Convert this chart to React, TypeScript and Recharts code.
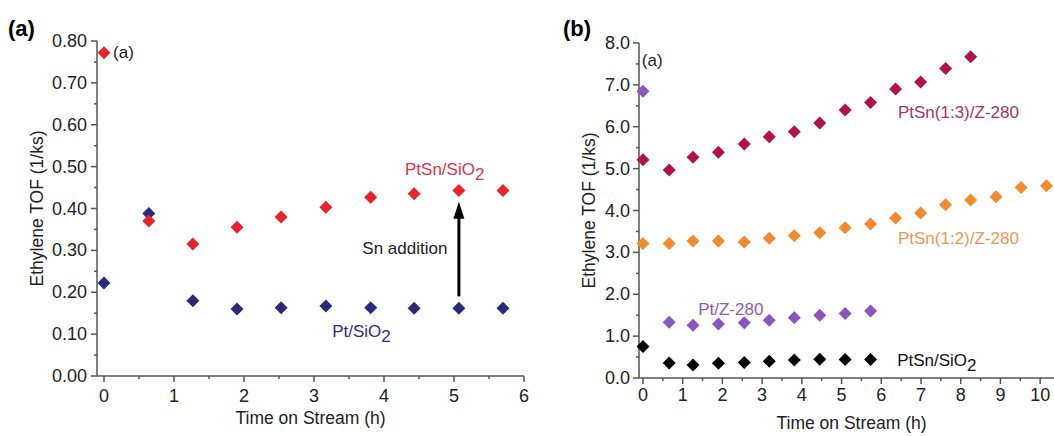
import { ScatterChart, Scatter, XAxis, YAxis, ReferenceDot, ReferenceLine } from "recharts";

// ---- panel (a) data ----
const timesA = [0, 0.64, 1.27, 1.9, 2.53, 3.17, 3.81, 4.43, 5.07, 5.7];
const ptSnSiO2A = [0.772, 0.37, 0.315, 0.355, 0.38, 0.403, 0.427, 0.435, 0.443, 0.443];
const ptSiO2A = [0.222, 0.388, 0.18, 0.16, 0.163, 0.167, 0.163, 0.162, 0.162, 0.162];
const xTicksA = [0, 0.5, 1, 1.5, 2, 2.5, 3, 3.5, 4, 4.5, 5, 5.5, 6];
const yTicksA = [
  0, 0.05, 0.1, 0.15, 0.2, 0.25, 0.3, 0.35, 0.4, 0.45, 0.5, 0.55, 0.6, 0.65, 0.7, 0.75, 0.8,
];

// ---- panel (b) data ----
const timesB = [0, 0.66, 1.26, 1.9, 2.55, 3.18, 3.81, 4.45, 5.09, 5.73, 6.36, 6.99, 7.62, 8.25, 8.89, 9.52, 10.16];
const ptSn13 = [5.21, 4.97, 5.27, 5.39, 5.59, 5.76, 5.88, 6.09, 6.4, 6.58, 6.9, 7.07, 7.39, 7.67];
const ptSn12 = [3.21, 3.21, 3.27, 3.27, 3.25, 3.34, 3.4, 3.47, 3.59, 3.68, 3.82, 3.94, 4.14, 4.25, 4.33, 4.55, 4.59];
const ptZ280 = [6.85, 1.33, 1.26, 1.29, 1.32, 1.38, 1.44, 1.5, 1.54, 1.6];
const ptSnSiO2B = [0.75, 0.36, 0.31, 0.35, 0.37, 0.4, 0.43, 0.45, 0.44, 0.44];
const xTicksB = [0, 0.5, 1, 1.5, 2, 2.5, 3, 3.5, 4, 4.5, 5, 5.5, 6, 6.5, 7, 7.5, 8, 8.5, 9, 9.5, 10, 10.5];
const yTicksB = [0, 0.5, 1, 1.5, 2, 2.5, 3, 3.5, 4, 4.5, 5, 5.5, 6, 6.5, 7, 7.5, 8];

const FONT = "'Liberation Sans', Arial, sans-serif";
const AXIS = "#555";

const pts = (xs: number[], ys: number[]) => ys.map((y, i) => ({ x: xs[i], y }));

const Diamond = (color: string, r = 6.5) => (p: any) => (
  <polygon
    points={`${p.cx},${p.cy - r} ${p.cx + r},${p.cy} ${p.cx},${p.cy + r} ${p.cx - r},${p.cy}`}
    fill={color}
  />
);

const isStep = (v: number, step: number) => Math.abs(v / step - Math.round(v / step)) < 1e-6;

function XTick(props: any) {
  const { x, y, payload, dy } = props;
  const major = isStep(payload.value, 1);
  return (
    <g>
      <line x1={x} y1={y} x2={x} y2={y + (major ? 6 : 3)} stroke={AXIS} strokeWidth={1.5} />
      {major && (
        <text x={x} y={y + dy} textAnchor="middle" fontSize={18} fill="#222" fontFamily={FONT}>
          {payload.value}
        </text>
      )}
    </g>
  );
}

function YTick(props: any) {
  const { x, y, payload, step, digits, gap } = props;
  const major = isStep(payload.value, step);
  return (
    <g>
      <line x1={x} y1={y} x2={x - (major ? 6 : 3)} y2={y} stroke={AXIS} strokeWidth={1.5} />
      {major && (
        <text x={x - gap} y={y + 6} textAnchor="end" fontSize={18} fill="#222" fontFamily={FONT}>
          {payload.value.toFixed(digits)}
        </text>
      )}
    </g>
  );
}

function Note(text: string, color: string, sub?: string, size = 17) {
  return (p: any) => (
    <text x={p.cx} y={p.cy} fontSize={size} fill={color} fontFamily={FONT}>
      {text}
      {sub && (
        <tspan dy={5} fontSize={size}>
          {sub}
        </tspan>
      )}
    </text>
  );
}

const ArrowHead = (p: any) => (
  <polygon points={`${p.cx},${p.cy} ${p.cx - 5.5},${p.cy + 17} ${p.cx + 5.5},${p.cy + 17}`} fill="#000" />
);

export default function App() {
  return (
    <div
      style={{
        position: "absolute",
        left: 0,
        top: 0,
        width: 1054,
        height: 436,
        background: "#fff",
        fontFamily: FONT,
      }}
    >
      <div style={{ position: "absolute", left: 8, top: 16, fontSize: 22, fontWeight: "bold" }}>(a)</div>
      <div style={{ position: "absolute", left: 563, top: 16, fontSize: 22, fontWeight: "bold" }}>(b)</div>

      {/* panel (a) */}
      <div style={{ position: "absolute", left: 0, top: 0 }}>
        <ScatterChart width={540} height={436} margin={{ top: 41, right: 16, bottom: 0, left: 0 }}>
          <XAxis
            type="number"
            dataKey="x"
            domain={[-0.1, 6]}
            ticks={xTicksA}
            interval={0}
            tickSize={0}
            tickMargin={0}
            tick={(p: any) => <XTick {...p} dy={26} />}
            stroke={AXIS}
            strokeWidth={1.5}
            height={60}
            label={{ value: "Time on Stream (h)", position: "insideBottom", offset: 12, fontSize: 17.5, fill: "#222" }}
          />
          <XAxis xAxisId="top" orientation="top" type="number" domain={[-0.1, 6]} height={0} tick={false} stroke={AXIS} strokeWidth={1.5} />
          <YAxis
            type="number"
            dataKey="y"
            domain={[0, 0.8]}
            ticks={yTicksA}
            interval={0}
            tickSize={0}
            tickMargin={0}
            tick={(p: any) => <YTick {...p} step={0.1} digits={2} gap={10} />}
            stroke={AXIS}
            strokeWidth={1.5}
            width={97}
            label={{ value: "Ethylene TOF (1/ks)", angle: -90, position: "insideLeft", offset: 37, fontSize: 17.5, fill: "#222", style: { textAnchor: "middle" } }}
          />
          <YAxis yAxisId="right" orientation="right" type="number" domain={[0, 0.8]} width={0} tick={false} stroke={AXIS} strokeWidth={1.5} />
          <Scatter data={pts(timesA, ptSiO2A)} shape={Diamond("#2a2a78")} isAnimationActive={false} />
          <Scatter data={pts(timesA, ptSnSiO2A)} shape={Diamond("#e8232b")} isAnimationActive={false} />
          <ReferenceLine
            segment={[
              { x: 5.07, y: 0.19 },
              { x: 5.07, y: 0.38 },
            ]}
            stroke="#000"
            strokeWidth={3}
          />
          <ReferenceDot x={5.07} y={0.416} shape={ArrowHead} />
          <ReferenceDot x={0.13} y={0.759} shape={Note("(a)", "#222")} />
          <ReferenceDot x={4.3} y={0.48} shape={Note("PtSn/SiO", "#e0334a", "2")} />
          <ReferenceDot x={3.69} y={0.291} shape={Note("Sn addition", "#222")} />
          <ReferenceDot x={3.26} y={0.093} shape={Note("Pt/SiO", "#2d2e83", "2")} />
        </ScatterChart>
      </div>

      {/* panel (b): the svg is cut at the window edge, the frame goes on past it */}
      <div style={{ position: "absolute", left: 530, top: 0 }}>
        <ScatterChart width={524} height={436} margin={{ top: 43, right: -10, bottom: 0, left: 0 }}>
          <XAxis
            type="number"
            dataKey="x"
            domain={[-0.1, 10.6]}
            ticks={xTicksB}
            interval={0}
            tickSize={0}
            tickMargin={0}
            tick={(p: any) => <XTick {...p} dy={23} />}
            stroke={AXIS}
            strokeWidth={1.5}
            height={58}
            label={{ value: "Time on Stream (h)", position: "insideBottom", offset: 7, fontSize: 17.5, fill: "#222" }}
          />
          <XAxis xAxisId="top" orientation="top" type="number" domain={[-0.1, 10.6]} height={0} tick={false} stroke={AXIS} strokeWidth={1.5} />
          <YAxis
            type="number"
            dataKey="y"
            domain={[0, 8]}
            ticks={yTicksB}
            interval={0}
            tickSize={0}
            tickMargin={0}
            tick={(p: any) => <YTick {...p} step={1} digits={1} gap={9} />}
            stroke={AXIS}
            strokeWidth={1.5}
            width={109}
            label={{ value: "Ethylene TOF (1/ks)", angle: -90, position: "insideLeft", offset: 59, fontSize: 17.5, fill: "#222", style: { textAnchor: "middle" } }}
          />
          <Scatter data={pts(timesB, ptSnSiO2B)} shape={Diamond("#000")} isAnimationActive={false} />
          <Scatter data={pts(timesB, ptZ280)} shape={Diamond("#8a55c0")} isAnimationActive={false} />
          <Scatter data={pts(timesB, ptSn12)} shape={Diamond("#f28a2e")} isAnimationActive={false} />
          <Scatter data={pts(timesB, ptSn13)} shape={Diamond("#b0124a")} isAnimationActive={false} />
          <ReferenceDot x={-0.03} y={7.45} shape={Note("(a)", "#222")} />
          <ReferenceDot x={6.42} y={6.21} shape={Note("PtSn(1:3)/Z-280", "#a8336a")} />
          <ReferenceDot x={6.42} y={3.21} shape={Note("PtSn(1:2)/Z-280", "#eb9a55")} />
          <ReferenceDot x={1.39} y={1.5} shape={Note("Pt/Z-280", "#8e5bb5")} />
          <ReferenceDot x={6.4} y={0.29} shape={Note("PtSn/SiO", "#111", "2")} />
        </ScatterChart>
      </div>
    </div>
  );
}
